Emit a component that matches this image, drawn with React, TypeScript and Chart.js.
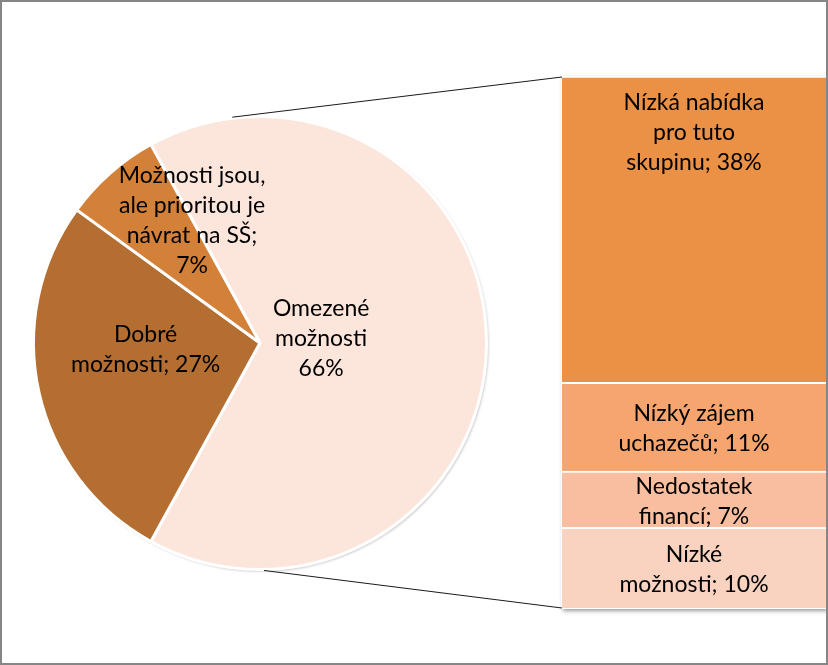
import React, { useEffect, useRef } from "react";
import { Chart, registerables } from "chart.js";

Chart.register(...registerables);

// ---------- data ----------
const pieLabels = ["Omezené možnosti", "Dobré možnosti", "Možnosti jsou, ale prioritou je návrat na SŠ"];
const pieValues = [66, 27, 7];
const pieColors = ["#FCE6DC", "#B46E32", "#D38039"];
const pieTextLines = [
  ["Omezené", "možnosti", "66%"],
  ["Dobré", "možnosti; 27%"],
  ["Možnosti jsou,", "ale prioritou je", "návrat na SŠ;", "7%"],
];

// stacked from bottom to top
const barLabels = ["Nízké možnosti", "Nedostatek financí", "Nízký zájem uchazečů", "Nízká nabídka pro tuto skupinu"];
const barValues = [10, 7, 11, 38];
const barColors = ["#FAD3C0", "#F8BE9F", "#F5A56D", "#EB9145"];
const barTextLines = [
  ["Nízké", "možnosti; 10%"],
  ["Nedostatek", "financí; 7%"],
  ["Nízký zájem", "uchazečů; 11%"],
  ["Nízká nabídka", "pro tuto", "skupinu; 38%"],
];

// ---------- styling / placement ----------
const W = 828;
const H = 665;
const FONT = "23px Lato, 'Open Sans', sans-serif";
const LINE_H = 30;
// label centres relative to pie centre, as fraction of the radius
const pieLabelPos = [
  [0.27, -0.02],
  [-0.505, 0.03],
  [-0.3, -0.54],
];
// connector angles on the pie (degrees, math orientation)
const connectorAngles = [97, -89];

const pieTotal = pieValues.reduce((a, b) => a + b, 0);
const barTotal = barValues.reduce((a, b) => a + b, 0);

function drawLines(ctx: CanvasRenderingContext2D, lines: string[], cx: number, cy: number) {
  ctx.save();
  ctx.font = FONT;
  ctx.fillStyle = "#000";
  ctx.textAlign = "center";
  ctx.textBaseline = "middle";
  const start = cy - ((lines.length - 1) * LINE_H) / 2;
  lines.forEach((l, i) => ctx.fillText(l, cx, start + i * LINE_H));
  ctx.restore();
}

export default function App() {
  const pieRef = useRef<HTMLCanvasElement>(null);
  const barRef = useRef<HTMLCanvasElement>(null);

  useEffect(() => {
    const pieShadow = {
      id: "pieShadow",
      beforeDatasetsDraw(chart: any) {
        const arc = chart.getDatasetMeta(0).data[0];
        if (!arc) return;
        const ctx = chart.ctx;
        ctx.save();
        ctx.shadowColor = "rgba(0,0,0,0.3)";
        ctx.shadowBlur = 3;
        ctx.shadowOffsetX = 1.5;
        ctx.shadowOffsetY = 1.5;
        ctx.fillStyle = "#fff";
        ctx.beginPath();
        ctx.arc(arc.x, arc.y, arc.outerRadius, 0, Math.PI * 2);
        ctx.fill();
        ctx.restore();
      },
    };
    const pieLabelPlugin = {
      id: "pieLabels",
      afterDatasetsDraw(chart: any) {
        const meta = chart.getDatasetMeta(0);
        meta.data.forEach((arc: any, i: number) => {
          const r = arc.outerRadius;
          const [fx, fy] = pieLabelPos[i];
          drawLines(chart.ctx, pieTextLines[i], arc.x + fx * r, arc.y + fy * r);
        });
      },
    };

    const pie = new Chart(pieRef.current!, {
      type: "pie",
      data: {
        labels: pieLabels,
        datasets: [
          {
            data: pieValues,
            backgroundColor: pieColors,
            borderColor: "#FFFFFF",
            borderWidth: 3,
          },
        ],
      },
      options: {
        responsive: false,
        animation: false,
        devicePixelRatio: 1,
        rotation: 90 - (pieValues[0] / pieTotal) * 180,
        layout: { padding: { left: 32, right: 340, top: 115, bottom: 94 } },
        plugins: { legend: { display: false }, tooltip: { enabled: false } },
      },
      plugins: [pieShadow, pieLabelPlugin],
    });

    const barShadow = {
      id: "barShadow",
      beforeDatasetsDraw(chart: any) {
        const ca = chart.chartArea;
        const ctx = chart.ctx;
        ctx.save();
        ctx.shadowColor = "rgba(0,0,0,0.4)";
        ctx.shadowBlur = 4;
        ctx.shadowOffsetX = 1.5;
        ctx.shadowOffsetY = 2;
        ctx.fillStyle = "#fff";
        ctx.fillRect(ca.left - 1, ca.top, ca.right - ca.left + 1, ca.bottom - ca.top + 1);
        ctx.restore();
      },
    };
    const barLabelPlugin = {
      id: "barLabels",
      afterDatasetsDraw(chart: any) {
        const ctx = chart.ctx;
        barValues.forEach((_, i) => {
          const el = chart.getDatasetMeta(i).data[0];
          const top = Math.min(el.y, el.base);
          const bottom = Math.max(el.y, el.base);
          const lines = barTextLines[i];
          if (i === barValues.length - 1) {
            drawLines(ctx, lines, el.x, top + 27 + ((lines.length - 1) * LINE_H) / 2);
          } else {
            drawLines(ctx, lines, el.x, (top + bottom) / 2 + 2);
          }
        });
        // connectors from pie to bar
        const arc = pie.getDatasetMeta(0).data[0] as any;
        const topEl = chart.getDatasetMeta(barValues.length - 1).data[0];
        const botEl = chart.getDatasetMeta(0).data[0];
        const left = topEl.x - topEl.width / 2;
        const pts = [
          [left, Math.min(topEl.y, topEl.base) + 1],
          [left, Math.max(botEl.y, botEl.base)],
        ];
        ctx.save();
        ctx.strokeStyle = "#1a1a1a";
        ctx.lineWidth = 1;
        connectorAngles.forEach((a, i) => {
          const rad = (a * Math.PI) / 180;
          const r = arc.outerRadius + 1;
          ctx.beginPath();
          ctx.moveTo(arc.x + r * Math.cos(rad), arc.y - r * Math.sin(rad));
          ctx.lineTo(pts[i][0], pts[i][1]);
          ctx.stroke();
        });
        ctx.restore();
      },
    };

    const bar = new Chart(barRef.current!, {
      type: "bar",
      data: {
        labels: [""],
        datasets: barValues.map((v, i) => ({
          label: barLabels[i],
          data: [v],
          backgroundColor: barColors[i],
          borderColor: "#FFFFFF",
          borderWidth: { top: 2, left: 0, right: 0, bottom: 0 },
          borderSkipped: false,
          stack: "s",
          barPercentage: 1,
          categoryPercentage: 1,
        })),
      },
      options: {
        responsive: false,
        animation: false,
        devicePixelRatio: 1,
        layout: { padding: { left: 562, right: 2, top: 76, bottom: 57 } },
        scales: {
          x: { display: false, stacked: true },
          y: { display: false, stacked: true, min: 0, max: barTotal },
        },
        plugins: { legend: { display: false }, tooltip: { enabled: false } },
      },
      plugins: [barShadow, barLabelPlugin],
    });

    return () => {
      bar.destroy();
      pie.destroy();
    };
  }, []);

  return (
    <div style={{ position: "fixed", left: 0, top: 0, width: W, height: H, background: "#fff", overflow: "hidden" }}>
      <canvas ref={pieRef} width={W} height={H} style={{ position: "absolute", left: 0, top: 0 }} />
      <canvas ref={barRef} width={W} height={H} style={{ position: "absolute", left: 0, top: 0 }} />
      <div
        style={{
          position: "absolute",
          left: 0,
          top: 0,
          width: W,
          height: H,
          boxSizing: "border-box",
          border: "2px solid #868686",
          pointerEvents: "none",
        }}
      />
    </div>
  );
}
